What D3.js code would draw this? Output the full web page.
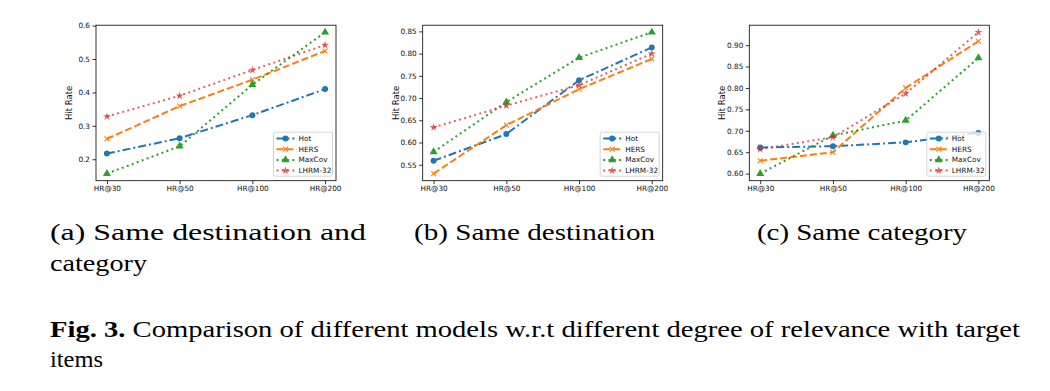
<!DOCTYPE html>
<html><head><meta charset="utf-8">
<script src="https://cdn.jsdelivr.net/npm/d3@7"></script>
<style>body{margin:0;background:#fff}svg{display:block}</style>
</head><body>
<svg id="c" width="1050" height="391"></svg>
<script>
// ---- data ----
const categories = ["HR@30", "HR@50", "HR@100", "HR@200"];
const seriesNames = ["Hot", "HERS", "MaxCov", "LHRM-32"];
// (a) Same destination and category
const a_hot    = [0.217, 0.263, 0.332, 0.410];
const a_hers   = [0.261, 0.359, 0.438, 0.524];
const a_maxcov = [0.157, 0.239, 0.423, 0.580];
const a_lhrm   = [0.328, 0.390, 0.467, 0.542];
const a_ticks  = [0.2, 0.3, 0.4, 0.5, 0.6];
// (b) Same destination
const b_hot    = [0.559, 0.619, 0.740, 0.814];
const b_hers   = [0.530, 0.639, 0.720, 0.788];
const b_maxcov = [0.579, 0.691, 0.791, 0.848];
const b_lhrm   = [0.634, 0.683, 0.729, 0.800];
const b_ticks  = [0.55, 0.60, 0.65, 0.70, 0.75, 0.80, 0.85];
// (c) Same category
const c_hot    = [0.661, 0.664, 0.673, 0.695];
const c_hers   = [0.630, 0.650, 0.800, 0.909];
const c_maxcov = [0.600, 0.689, 0.724, 0.870];
const c_lhrm   = [0.657, 0.685, 0.787, 0.930];
const c_ticks  = [0.60, 0.65, 0.70, 0.75, 0.80, 0.85, 0.90];

const captions = ["(a) Same destination and", "(b) Same destination", "(c) Same category"];

// ---- styles ----
const colors = ["#1f77b4", "#ff7f0e", "#2ca02c", "#d62728"];
const dashes = ["8,3,2,3", "7,3", "2,3.3", "2,3.3"];
const opac = [1, 1, 1, 0.72];
const crossSym = {draw(ctx, size){ const r = Math.sqrt(size)/2; ctx.moveTo(-r,-r); ctx.lineTo(r,r); ctx.moveTo(r,-r); ctx.lineTo(-r,r);} };
const symbols = [d3.symbolCircle, crossSym, d3.symbolTriangle, d3.symbolStar];
const symSize = [28, 24, 28, 20];

const panels = [
  {left: 96,    series: [a_hot, a_hers, a_maxcov, a_lhrm], ticks: a_ticks, fmt: d3.format(".1f")},
  {left: 422.7, series: [b_hot, b_hers, b_maxcov, b_lhrm], ticks: b_ticks, fmt: d3.format(".2f")},
  {left: 749.3, series: [c_hot, c_hers, c_maxcov, c_lhrm], ticks: c_ticks, fmt: d3.format(".2f")}
];
const PW = 240, PT = 25.2, PB = 180.7;
const svg = d3.select("#c");
const tickFont = "DejaVu Sans";

panels.forEach((p, pi) => {
  const all = p.series.flat();
  const mn = d3.min(all), mx = d3.max(all), rg = mx - mn;
  const y = d3.scaleLinear().domain([mn - 0.05*rg, mx + 0.05*rg]).range([PB, PT]);
  const x = d3.scaleLinear().domain([-0.15, categories.length - 1 + 0.15]).range([p.left, p.left + PW]);
  const g = svg.append("g");

  const ya = g.append("g").attr("transform", `translate(${p.left},0)`)
    .call(d3.axisLeft(y).tickValues(p.ticks).tickFormat(p.fmt).tickSize(3.5).tickPadding(2.5));
  ya.select(".domain").remove();
  ya.selectAll("line").attr("stroke", "#000").attr("stroke-width", 0.8);
  ya.selectAll("text").attr("font-family", tickFont).attr("font-size", 7.3).attr("fill", "#111");
  const xa = g.append("g").attr("transform", `translate(0,${PB})`)
    .call(d3.axisBottom(x).tickValues(d3.range(categories.length)).tickFormat(i => categories[i]).tickSize(3.5).tickPadding(2));
  xa.select(".domain").remove();
  xa.selectAll("line").attr("stroke", "#000").attr("stroke-width", 0.8);
  xa.selectAll("text").attr("font-family", tickFont).attr("font-size", 7.3).attr("fill", "#111");

  g.append("text").attr("transform", `translate(${p.left - 24},${(PT+PB)/2}) rotate(-90)`)
    .attr("text-anchor", "middle").attr("font-family", tickFont).attr("font-size", 8.5).attr("fill", "#111").text("Hit Rate");

  p.series.forEach((vals, si) => {
    const line = d3.line().x((d, i) => x(i)).y(d => y(d));
    g.append("path").datum(vals).attr("d", line).attr("fill", "none")
      .attr("stroke", colors[si]).attr("stroke-width", 2).attr("stroke-dasharray", dashes[si]).attr("opacity", opac[si]);
    g.selectAll(null).data(vals).join("path")
      .attr("transform", (d, i) => `translate(${x(i)},${y(d)})`)
      .attr("d", d3.symbol().type(symbols[si]).size(symSize[si]))
      .attr("fill", si === 1 ? "none" : colors[si]).attr("stroke", si === 1 ? colors[si] : "none")
      .attr("stroke-width", 1.1).attr("opacity", opac[si]);
  });

  g.append("rect").attr("x", p.left).attr("y", PT).attr("width", PW).attr("height", PB - PT)
    .attr("fill", "none").attr("stroke", "#000").attr("stroke-width", 0.8);

  const lw = 59, lh = 44, lx = p.left + PW - 3.5 - lw, ly = PB - 4.5 - lh;
  const lg = g.append("g");
  lg.append("rect").attr("x", lx).attr("y", ly).attr("width", lw).attr("height", lh).attr("rx", 2)
    .attr("fill", "#fff").attr("fill-opacity", 0.8).attr("stroke", "#ccc").attr("stroke-width", 0.8);
  seriesNames.forEach((nm, si) => {
    const cy = ly + 6.3 + si * 10.7;
    lg.append("line").attr("x1", lx + 3).attr("x2", lx + 21).attr("y1", cy).attr("y2", cy)
      .attr("stroke", colors[si]).attr("stroke-width", 2).attr("stroke-dasharray", dashes[si]).attr("opacity", opac[si]);
    lg.append("path").attr("transform", `translate(${lx + 12},${cy})`)
      .attr("d", d3.symbol().type(symbols[si]).size(symSize[si]))
      .attr("fill", si === 1 ? "none" : colors[si]).attr("stroke", si === 1 ? colors[si] : "none")
      .attr("stroke-width", 1.1).attr("opacity", opac[si]);
    lg.append("text").attr("x", lx + 25).attr("y", cy).attr("dy", "0.35em")
      .attr("font-family", tickFont).attr("font-size", 7.3).attr("fill", "#111").text(nm);
  });
});

const serif = "Liberation Serif";
const capFS = 24;
const capX = [50, 414, 757];
const capW = [316, 241, 210];
captions.forEach((t, i) => {
  svg.append("text").attr("x", capX[i]).attr("y", 240).attr("font-family", serif).attr("font-size", capFS)
    .attr("textLength", capW[i]).attr("lengthAdjust", "spacingAndGlyphs").attr("fill", "#000").text(t);
});
svg.append("text").attr("x", 50).attr("y", 271).attr("font-family", serif).attr("font-size", capFS)
  .attr("textLength", 97).attr("lengthAdjust", "spacingAndGlyphs").text("category");

const fig = svg.append("text").attr("x", 50).attr("y", 337).attr("font-family", serif).attr("font-size", capFS)
  .attr("textLength", 970).attr("lengthAdjust", "spacingAndGlyphs");
fig.append("tspan").attr("font-weight", "bold").text("Fig. 3.");
fig.append("tspan").text(" Comparison of different models w.r.t different degree of relevance with target");
svg.append("text").attr("x", 50).attr("y", 367).attr("font-family", serif).attr("font-size", capFS)
  .attr("textLength", 53).attr("lengthAdjust", "spacingAndGlyphs").text("items");
</script>
</body></html>
